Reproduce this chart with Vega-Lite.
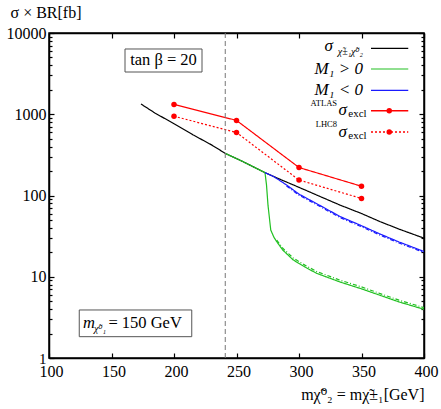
{
  "$schema": "https://vega.github.io/schema/vega-lite/v6.json",
  "width": 375,
  "height": 325,
  "autosize": {"type": "none"},
  "padding": {"left": 49, "top": 33, "right": 17, "bottom": 51},
  "background": "white",
  "config": {
    "view": {"stroke": "#000", "strokeWidth": 1.5},
    "font": "Times New Roman, DejaVu Serif, serif",
    "axis": {"grid": false, "domainColor": "#000", "domainWidth": 1.5, "tickColor": "#000", "labelColor": "#000", "titleColor": "#000", "labelFont": "Times New Roman, DejaVu Serif, serif", "titleFont": "Times New Roman, DejaVu Serif, serif", "labelFontSize": 16, "titleFontSize": 16, "titleFontWeight": "normal"}
  },
  "datasets": {
    "curves": [
      {"s": "sigma", "x": 173.6, "y": 1337}, {"s": "sigma", "x": 185, "y": 1030}, {"s": "sigma", "x": 200, "y": 765}, {"s": "sigma", "x": 215, "y": 560}, {"s": "sigma", "x": 230, "y": 420}, {"s": "sigma", "x": 241, "y": 330}, {"s": "sigma", "x": 255, "y": 262}, {"s": "sigma", "x": 272.8, "y": 191}, {"s": "sigma", "x": 285, "y": 158}, {"s": "sigma", "x": 300, "y": 126}, {"s": "sigma", "x": 315, "y": 100}, {"s": "sigma", "x": 333, "y": 76}, {"s": "sigma", "x": 350, "y": 60}, {"s": "sigma", "x": 365, "y": 47.6}, {"s": "sigma", "x": 380, "y": 38.6}, {"s": "sigma", "x": 397, "y": 31}, {"s": "sigma", "x": 400, "y": 29.9},
      {"s": "M1pos", "x": 241, "y": 330}, {"s": "M1pos", "x": 255, "y": 262}, {"s": "M1pos", "x": 272.8, "y": 191}, {"s": "M1pos", "x": 274, "y": 135}, {"s": "M1pos", "x": 275.2, "y": 76}, {"s": "M1pos", "x": 277.4, "y": 37.6}, {"s": "M1pos", "x": 280, "y": 30.5}, {"s": "M1pos", "x": 282.2, "y": 27}, {"s": "M1pos", "x": 287, "y": 21.3}, {"s": "M1pos", "x": 295.4, "y": 16.1}, {"s": "M1pos", "x": 305, "y": 13.1}, {"s": "M1pos", "x": 314.2, "y": 11}, {"s": "M1pos", "x": 333, "y": 8.6}, {"s": "M1pos", "x": 350, "y": 7.1}, {"s": "M1pos", "x": 365, "y": 5.9}, {"s": "M1pos", "x": 380, "y": 4.9}, {"s": "M1pos", "x": 397, "y": 4.1}, {"s": "M1pos", "x": 400, "y": 3.97},
      {"s": "M1pos_alt", "x": 282.2, "y": 28.3}, {"s": "M1pos_alt", "x": 287, "y": 22.4}, {"s": "M1pos_alt", "x": 295.4, "y": 17}, {"s": "M1pos_alt", "x": 305, "y": 13.8}, {"s": "M1pos_alt", "x": 314.2, "y": 11.6}, {"s": "M1pos_alt", "x": 333, "y": 9.05}, {"s": "M1pos_alt", "x": 350, "y": 7.5}, {"s": "M1pos_alt", "x": 365, "y": 6.2}, {"s": "M1pos_alt", "x": 380, "y": 5.15}, {"s": "M1pos_alt", "x": 397, "y": 4.3}, {"s": "M1pos_alt", "x": 400, "y": 4.17},
      {"s": "M1neg", "x": 272.8, "y": 191}, {"s": "M1neg", "x": 280, "y": 170}, {"s": "M1neg", "x": 290, "y": 135}, {"s": "M1neg", "x": 300, "y": 104}, {"s": "M1neg", "x": 315, "y": 78}, {"s": "M1neg", "x": 333, "y": 55}, {"s": "M1neg", "x": 350, "y": 42.5}, {"s": "M1neg", "x": 365, "y": 33.5}, {"s": "M1neg", "x": 380, "y": 26.8}, {"s": "M1neg", "x": 397, "y": 21.3}, {"s": "M1neg", "x": 400, "y": 20.5},
      {"s": "M1neg_alt", "x": 290, "y": 131}, {"s": "M1neg_alt", "x": 300, "y": 101}, {"s": "M1neg_alt", "x": 315, "y": 75.7}, {"s": "M1neg_alt", "x": 333, "y": 53.4}, {"s": "M1neg_alt", "x": 350, "y": 41.2}, {"s": "M1neg_alt", "x": 365, "y": 32.5}, {"s": "M1neg_alt", "x": 380, "y": 26}, {"s": "M1neg_alt", "x": 397, "y": 20.7}, {"s": "M1neg_alt", "x": 400, "y": 19.9},
      {"s": "ATLAS", "x": 200, "y": 1320}, {"s": "ATLAS", "x": 250, "y": 840}, {"s": "ATLAS", "x": 300, "y": 221}, {"s": "ATLAS", "x": 350, "y": 130},
      {"s": "LHC8", "x": 200, "y": 944}, {"s": "LHC8", "x": 250, "y": 597}, {"s": "LHC8", "x": 300, "y": 155}, {"s": "LHC8", "x": 350, "y": 92}
    ]
  },
  "layer": [
    {
      "layer": [
        {
          "data": {"name": "curves"},
          "mark": {"type": "line", "clip": true},
          "encoding": {
            "x": {"field": "x", "type": "quantitative", "scale": {"domain": [100, 400], "nice": false, "zero": false},
              "axis": {"values": [100, 150, 200, 250, 300, 350, 400], "tickSize": -5, "tickWidth": 1.2, "labelPadding": 10, "labelOffset": 2, "labelFlush": false, "labelOverlap": false,
                "title": "mχ̃⁰₂ = mχ̃±₁[GeV]", "titleX": 375, "titleY": 36, "titleAlign": "right", "titleBaseline": "middle"}},
            "y": {"field": "y", "type": "quantitative", "scale": {"type": "log", "domain": [1, 10000], "nice": false},
              "axis": {"values": [1,2,3,4,5,6,7,8,9,10,20,30,40,50,60,70,80,90,100,200,300,400,500,600,700,800,900,1000,2000,3000,4000,5000,6000,7000,8000,9000,10000],
                "labelExpr": "indexof([1,10,100,1000,10000], datum.value) >= 0 ? format(datum.value, 'd') : ''",
                "labelFontSize": {"condition": {"test": "datum.value == 1", "value": 15}, "value": 16},
                "tickSize": {"condition": {"test": "indexof([1,10,100,1000,10000], datum.value) >= 0", "value": -5}, "value": -3},
                "tickWidth": 1.2, "labelPadding": 8, "labelOverlap": false, "labelFlush": false,
                "title": "σ × BR[fb]", "titleAngle": 0, "titleX": -39, "titleY": -21, "titleAlign": "left", "titleBaseline": "middle"}},
            "detail": {"field": "s"},
            "color": {"field": "s", "type": "nominal", "legend": null,
              "scale": {"domain": ["sigma", "M1pos", "M1pos_alt", "M1neg", "M1neg_alt", "ATLAS", "LHC8"], "range": ["#000000", "#22c022", "#22c022", "#1a1aff", "#1a1aff", "#ff0000", "#ff0000"]}},
            "strokeDash": {"field": "s", "type": "nominal", "legend": null,
              "scale": {"domain": ["sigma", "M1pos", "M1pos_alt", "M1neg", "M1neg_alt", "ATLAS", "LHC8"], "range": [[1, 0], [1, 0], [4, 2, 1, 2], [1, 0], [4, 2, 1, 2], [1, 0], [2, 2]]}},
            "strokeWidth": {"field": "s", "type": "nominal", "legend": null,
              "scale": {"domain": ["sigma", "M1pos", "M1pos_alt", "M1neg", "M1neg_alt", "ATLAS", "LHC8"], "range": [1.2, 1.2, 0.9, 1.2, 0.9, 1.5, 1.5]}}
          }
        },
        {
          "data": {"values": [{}]},
          "mark": {"type": "rule", "color": "#777777", "strokeDash": [5, 3], "strokeWidth": 1},
          "encoding": {"x": {"datum": 241}}
        },
        {
          "data": {"name": "curves"},
          "transform": [{"filter": "datum.s == 'ATLAS' || datum.s == 'LHC8'"}],
          "mark": {"type": "circle", "size": 30, "color": "#ff0000", "opacity": 1},
          "encoding": {"x": {"field": "x", "type": "quantitative"}, "y": {"field": "y", "type": "quantitative"}}
        },
        {"data": {"values": [{}]}, "mark": {"type": "rule", "color": "#000000", "strokeWidth": 1.2}, "encoding": {"x": {"datum": 357.6}, "x2": {"datum": 387.4}, "y": {"datum": 6486}}},
        {"data": {"values": [{}]}, "mark": {"type": "rule", "color": "#22c022", "strokeWidth": 1.2}, "encoding": {"x": {"datum": 357.6}, "x2": {"datum": 387.4}, "y": {"datum": 3606}}},
        {"data": {"values": [{}]}, "mark": {"type": "rule", "color": "#1a1aff", "strokeWidth": 1.2}, "encoding": {"x": {"datum": 357.6}, "x2": {"datum": 387.4}, "y": {"datum": 1972}}},
        {"data": {"values": [{}]}, "mark": {"type": "rule", "color": "#ff0000", "strokeWidth": 1.5}, "encoding": {"x": {"datum": 357.6}, "x2": {"datum": 387.4}, "y": {"datum": 1106}}},
        {"data": {"values": [{}]}, "mark": {"type": "rule", "color": "#ff0000", "strokeWidth": 1.5, "strokeDash": [2, 2]}, "encoding": {"x": {"datum": 357.6}, "x2": {"datum": 387.4}, "y": {"datum": 605}}},
        {"data": {"values": [{}]}, "mark": {"type": "circle", "size": 30, "color": "#ff0000", "opacity": 1}, "encoding": {"x": {"datum": 372.2}, "y": {"datum": 1106}}},
        {"data": {"values": [{}]}, "mark": {"type": "circle", "size": 30, "color": "#ff0000", "opacity": 1}, "encoding": {"x": {"datum": 372.2}, "y": {"datum": 605}}},
        {"data": {"values": [{}]}, "mark": {"type": "text", "text": "σ", "fontSize": 17, "fontStyle": "italic", "align": "right", "baseline": "middle"}, "encoding": {"x": {"datum": 327.2}, "y": {"datum": 6918}}},
        {"data": {"values": [{}]}, "mark": {"type": "text", "text": "χ̃±₁χ̃⁰₂", "fontSize": 10, "fontStyle": "italic", "align": "right", "baseline": "middle"}, "encoding": {"x": {"datum": 351.2}, "y": {"datum": 5837}}},
        {"data": {"values": [{}]}, "mark": {"type": "text", "text": "M₁ > 0", "fontSize": 17, "fontStyle": "italic", "align": "right", "baseline": "middle"}, "encoding": {"x": {"datum": 351.2}, "y": {"datum": 3606}}},
        {"data": {"values": [{}]}, "mark": {"type": "text", "text": "M₁ < 0", "fontSize": 17, "fontStyle": "italic", "align": "right", "baseline": "middle"}, "encoding": {"x": {"datum": 351.2}, "y": {"datum": 1972}}},
        {"data": {"values": [{}]}, "mark": {"type": "text", "text": "ATLAS", "fontSize": 8.5, "align": "right", "baseline": "middle"}, "encoding": {"x": {"datum": 330.4}, "y": {"datum": 1360}}},
        {"data": {"values": [{}]}, "mark": {"type": "text", "text": "σ", "fontSize": 17, "fontStyle": "italic", "align": "right", "baseline": "middle"}, "encoding": {"x": {"datum": 338.4}, "y": {"datum": 1128}}},
        {"data": {"values": [{}]}, "mark": {"type": "text", "text": "excl", "fontSize": 11, "align": "left", "baseline": "middle"}, "encoding": {"x": {"datum": 339.4}, "y": {"datum": 1000}}},
        {"data": {"values": [{}]}, "mark": {"type": "text", "text": "LHC8", "fontSize": 8.5, "align": "right", "baseline": "middle"}, "encoding": {"x": {"datum": 330.4}, "y": {"datum": 760}}},
        {"data": {"values": [{}]}, "mark": {"type": "text", "text": "σ", "fontSize": 17, "fontStyle": "italic", "align": "right", "baseline": "middle"}, "encoding": {"x": {"datum": 338.4}, "y": {"datum": 605}}},
        {"data": {"values": [{}]}, "mark": {"type": "text", "text": "excl", "fontSize": 11, "align": "left", "baseline": "middle"}, "encoding": {"x": {"datum": 339.4}, "y": {"datum": 535}}},
        {"data": {"values": [{}]}, "mark": {"type": "rect", "fill": "white", "stroke": "#555555", "strokeWidth": 1}, "encoding": {"x": {"datum": 160.8}, "x2": {"datum": 222.4}, "y": {"datum": 3311}, "y2": {"datum": 6355}}},
        {"data": {"values": [{}]}, "mark": {"type": "text", "text": "tan β = 20", "fontSize": 16.5, "align": "center", "baseline": "middle"}, "encoding": {"x": {"datum": 191.6}, "y": {"datum": 4590}}},
        {"data": {"values": [{}]}, "mark": {"type": "rect", "fill": "white", "stroke": "#555555", "strokeWidth": 1}, "encoding": {"x": {"datum": 124.2}, "x2": {"datum": 214.2}, "y": {"datum": 1.83}, "y2": {"datum": 3.9}}},
        {"data": {"values": [{}]}, "mark": {"type": "text", "text": "m", "fontSize": 16.5, "fontStyle": "italic", "align": "left", "baseline": "middle"}, "encoding": {"x": {"datum": 127.2}, "y": {"datum": 2.7}}},
        {"data": {"values": [{}]}, "mark": {"type": "text", "text": "χ̃⁰₁", "fontSize": 10, "fontStyle": "italic", "align": "left", "baseline": "middle"}, "encoding": {"x": {"datum": 136}, "y": {"datum": 2.3}}},
        {"data": {"values": [{}]}, "mark": {"type": "text", "text": "= 150 GeV", "fontSize": 16.5, "align": "left", "baseline": "middle"}, "encoding": {"x": {"datum": 147.5}, "y": {"datum": 2.7}}}
      ]
    },
    {
      "data": {"name": "curves"},
      "mark": {"type": "point", "opacity": 0},
      "encoding": {
        "x": {"field": "x", "type": "quantitative", "axis": {"orient": "top", "values": [100, 150, 200, 250, 300, 350, 400], "tickSize": -5, "tickWidth": 1.2, "labels": false, "title": null}},
        "y": {"field": "y", "type": "quantitative", "axis": {"orient": "right", "values": [1,2,3,4,5,6,7,8,9,10,20,30,40,50,60,70,80,90,100,200,300,400,500,600,700,800,900,1000,2000,3000,4000,5000,6000,7000,8000,9000,10000],
          "tickSize": {"condition": {"test": "indexof([1,10,100,1000,10000], datum.value) >= 0", "value": -5}, "value": -3}, "tickWidth": 1.2, "labels": false, "title": null}}
      }
    }
  ],
  "resolve": {"axis": {"x": "independent", "y": "independent"}}
}
